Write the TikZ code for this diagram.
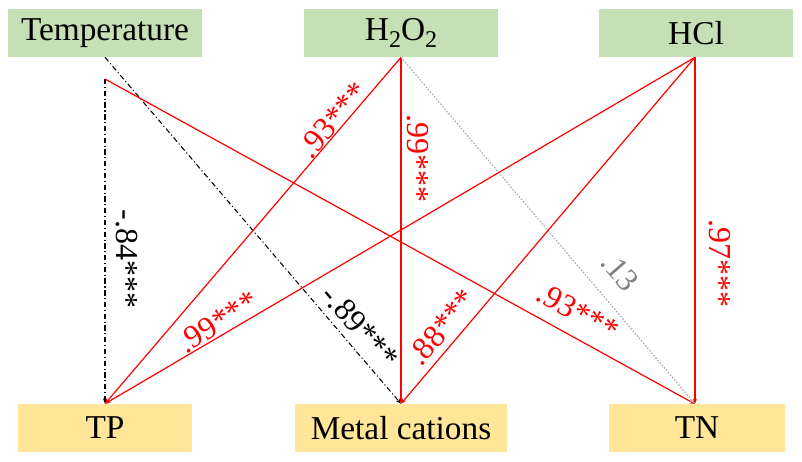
\documentclass[tikz,border=0pt]{standalone}
\usepackage{fontspec}
\setmainfont{Liberation Serif}
\usetikzlibrary{arrows.meta}
\definecolor{boxgreen}{HTML}{C5E0B4}
\definecolor{boxyellow}{HTML}{FFE699}
\definecolor{lblgray}{HTML}{7F7F7F}
\definecolor{dotgray}{HTML}{A6A6A6}
\newcommand{\subtwo}{\raisebox{-0.45ex}{\fontsize{18}{18}\selectfont 2}}
\begin{document}
\begin{tikzpicture}[x=0.75pt,y=-0.75pt,
  topbox/.style={fill=boxgreen, minimum width=145.5pt, minimum height=36pt, inner sep=0pt, font=\fontsize{25}{25}\selectfont},
  botbox/.style={fill=boxyellow, minimum height=36pt, inner sep=0pt, font=\fontsize{25}{25}\selectfont},
  tip/.style={-{Stealth[length=4pt,width=3pt]}},
  redline/.style={tip, red, line width=0.9pt},
  ddline/.style={tip, black, line width=0.8pt, dash pattern=on 4pt off 2pt on 0.8pt off 2pt},
  dotline/.style={tip, dotgray, line width=0.8pt, dash pattern=on 1.2pt off 1.2pt},
  lbl/.style={font=\fontsize{24}{24}\selectfont, inner sep=0pt},
]
\useasboundingbox (0,0) rectangle (802,461);
% top nodes
\node[topbox] (temp) at (105,33) {Temperature};
\node[topbox] (h2o2) at (401,33) {H\subtwo O\subtwo};
\node[topbox] (hcl) at (696,33) {HCl};
% bottom nodes
\node[botbox, minimum width=131pt] (tp) at (105,428) {TP};
\node[botbox, minimum width=159pt] (mc) at (401,428) {Metal cations};
\node[botbox, minimum width=132pt] (tn) at (697,428) {TN};
\coordinate (tsplit) at (105,79);
\coordinate (tnin) at (695,404);
% connectors
\draw[ddline] (temp.south) -- (mc.north);
\draw[ddline] (tsplit) -- (tp.north);
\draw[redline] (tsplit) -- (tnin);
\draw[redline] (h2o2.south) -- (tp.north);
\draw[redline] (h2o2.south) -- (mc.north);
\draw[dotline] (h2o2.south) -- (tnin);
\draw[redline] (hcl.south -| tnin) -- (tp.north);
\draw[redline] (hcl.south -| tnin) -- (mc.north);
\draw[redline] (hcl.south -| tnin) -- (tnin);
% labels
\node[lbl, red, rotate=49] (l1) at (333,120) {.93***};
\node[lbl, red, rotate=-90] (l2) at (418,158) {.99***};
\node[lbl, black, rotate=-90] (l3) at (127,259) {-.84***};
\node[lbl, red, rotate=32] (l4) at (218,322) {.99***};
\node[lbl, black, rotate=-49] (l5) at (360,327) {-.89***};
\node[lbl, red, rotate=50] (l6) at (442,327) {.88***};
\node[lbl, red, rotate=-29] (l7) at (578,312) {.93***};
\node[lbl, lblgray, rotate=-49] (l8) at (620,272) {.13};
\node[lbl, red, rotate=-90] (l9) at (720,263) {.97***};
\end{tikzpicture}
\end{document}
